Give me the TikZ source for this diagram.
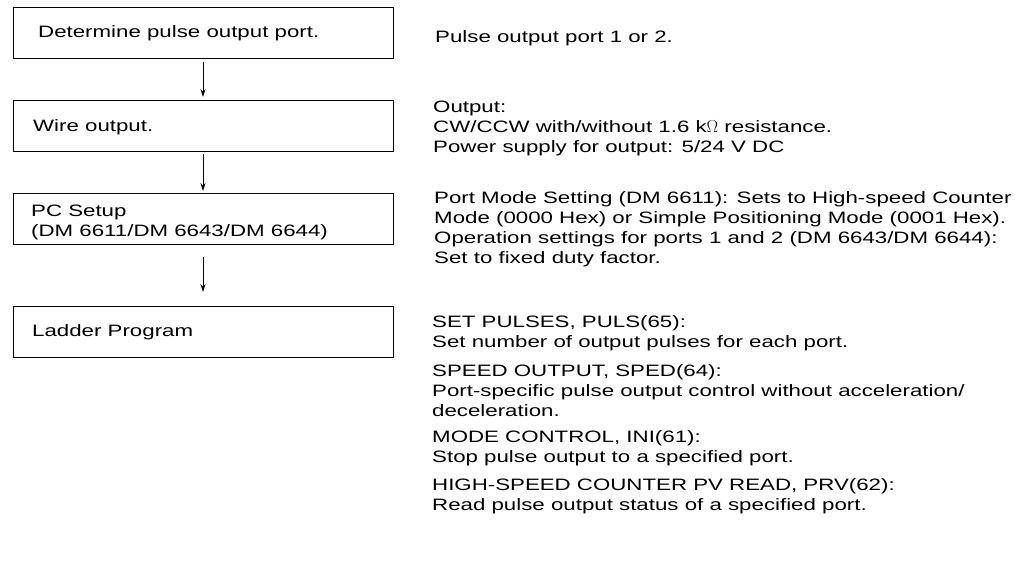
\documentclass[tikz,border=0pt]{standalone}
\usepackage{fontspec}
\setmainfont[FakeStretch=1.35]{Liberation Sans}
\usetikzlibrary{arrows.meta}
\begin{document}
\begin{tikzpicture}[x=1pt,y=-1pt,
  box/.style={draw,line width=1pt,minimum width=380pt,minimum height=51pt,inner sep=0pt},
  arr/.style={-{Stealth[length=8pt,width=5pt]},line width=0.8pt},
  txt/.style={anchor=north west,align=left,inner sep=0pt,font=\fontsize{16.5}{20}\selectfont}]
\useasboundingbox (0,0) rectangle (1015,582);
\node[box] (b1) at (203,33) {};
\node[box] (b2) at (203,126) {};
\node[box] (b3) at (203,219) {};
\node[box] (b4) at (203,332) {};
\node[txt,anchor=west] (t1) at (38,33) {Determine pulse output port.};
\node[txt,anchor=west] (t2) at (33,127) {Wire output.};
\node[txt,anchor=west] (t3) at (31,222) {PC Setup\\(DM 6611/DM 6643/DM 6644)};
\node[txt,anchor=west] (t4) at (32,332) {Ladder Program};
\draw[arr,shorten <=3pt,shorten >=3pt] (b1) -- (b2);
\draw[arr,shorten <=2pt,shorten >=2pt] (b2) -- (b3);
\draw[arr,shorten <=12pt,shorten >=14pt] (b3) -- (b4);
\node[txt,anchor=west] (r1) at (435,38) {Pulse output port 1 or 2.};
\node[txt,anchor=west] (r2) at (433,128) {Output:\\CW/CCW with/without 1.6 k$\Omega$ resistance.\\Power supply for output: 5/24 V DC};
\node[txt,anchor=west] (r3) at (434,229) {Port Mode Setting (DM 6611): Sets to High-speed Counter\\Mode (0000 Hex) or Simple Positioning Mode (0001 Hex).\\Operation settings for ports 1 and 2 (DM 6643/DM 6644):\\Set to fixed duty factor.};
\node[txt,anchor=west] (r4) at (432,333) {SET PULSES, PULS(65):\\Set number of output pulses for each port.};
\node[txt,anchor=west] (r5) at (432,391) {SPEED OUTPUT, SPED(64):\\Port-specific pulse output control without acceleration/\\deceleration.};
\node[txt,anchor=west] (r6) at (432,448) {MODE CONTROL, INI(61):\\Stop pulse output to a specified port.};
\node[txt,anchor=west] (r7) at (432,496) {HIGH-SPEED COUNTER PV READ, PRV(62):\\Read pulse output status of a specified port.};
\end{tikzpicture}
\end{document}
